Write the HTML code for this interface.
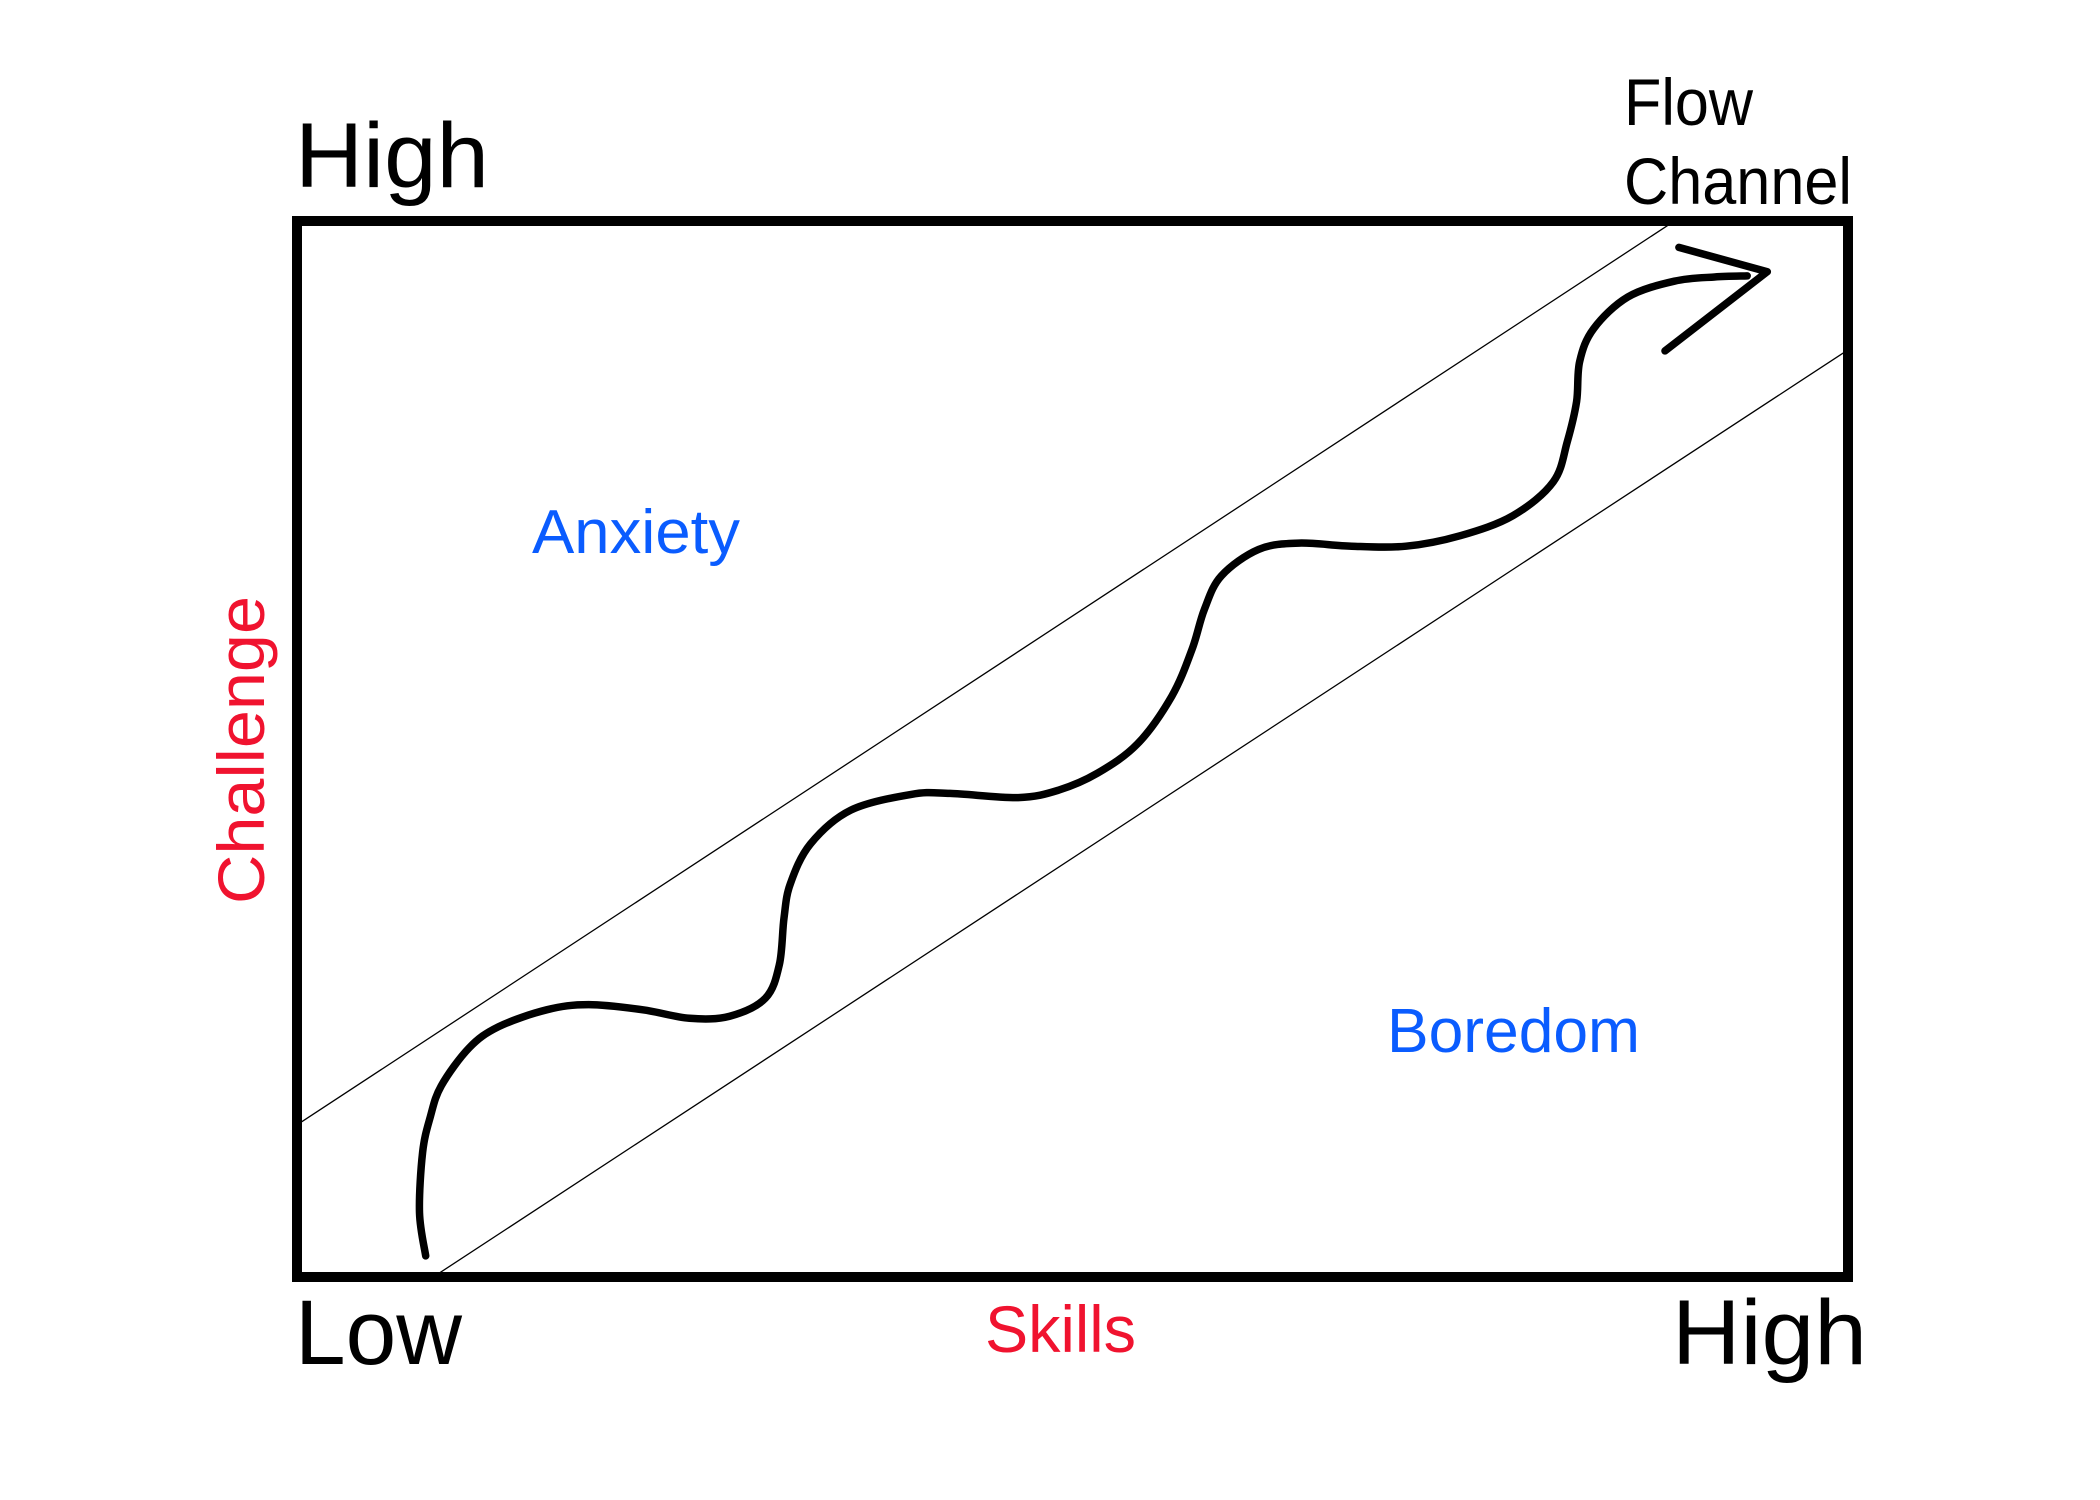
<!DOCTYPE html>
<html><head><meta charset="utf-8"><style>
html,body{margin:0;padding:0;background:#fff;}
svg{display:block;}
text{font-family:"Liberation Sans",sans-serif;}
</style></head><body>
<svg id="chart" width="2100" height="1500" viewBox="0 0 2100 1500" xmlns="http://www.w3.org/2000/svg">
<rect x="0" y="0" width="2100" height="1500" fill="#fff"/>
<g id="marks"></g>
<rect x="297" y="221" width="1551" height="1056" fill="none" stroke="#000" stroke-width="10"/>
<text x="295" y="187" font-size="92" textLength="194" lengthAdjust="spacingAndGlyphs">High</text>
<text x="1624" y="125" font-size="66" textLength="129" lengthAdjust="spacingAndGlyphs">Flow</text>
<text x="1624" y="204" font-size="66" textLength="228" lengthAdjust="spacingAndGlyphs">Channel</text>
<text x="295" y="1364" font-size="92" textLength="167" lengthAdjust="spacingAndGlyphs">Low</text>
<text x="1672" y="1364" font-size="92" textLength="195" lengthAdjust="spacingAndGlyphs">High</text>
<text x="985" y="1352" font-size="66" fill="#f0132f" textLength="151" lengthAdjust="spacingAndGlyphs">Skills</text>
<text x="532" y="553" font-size="62" fill="#0a5cff" textLength="208" lengthAdjust="spacingAndGlyphs">Anxiety</text>
<text x="1387" y="1052" font-size="62" fill="#0a5cff" textLength="253" lengthAdjust="spacingAndGlyphs">Boredom</text>
<text transform="translate(264,904) rotate(-90)" font-size="66" fill="#f0132f" textLength="308" lengthAdjust="spacingAndGlyphs">Challenge</text>
</svg>
<script>
const pathSkill = [8.3,7.9,8.1,8.6,9.3,11.1,13.0,16.1,18.8,22.3,25.3,27.9,30.2,31.1,31.4,31.8,33.1,35.7,39.6,42.1,46.5,49.1,51.6,54.2,56.4,57.7,58.5,59.6,62.0,64.6,68.0,71.5,75.0,78.4,81.0,81.9,82.5,82.7,83.6,85.8,88.8,91.4,93.5];
const pathChallenge = [2.0,6.1,11.8,15.2,18.1,21.7,23.7,25.3,25.8,25.3,24.5,24.7,26.4,29.6,34.0,37.2,41.0,44.2,45.7,45.8,45.4,46.1,47.7,50.5,55.0,59.4,63.2,66.4,68.9,69.5,69.2,69.2,70.2,72.1,75.3,79.1,82.9,86.7,89.8,92.8,94.3,94.7,94.8];
const arrowSkill = [89.1,94.8,88.2];
const arrowChallenge = [97.5,95.2,87.7];
const channelUpperSkill = [0.2,88.4];
const channelUpperChallenge = [14.6,99.6];
const channelLowerSkill = [9.2,99.9];
const channelLowerChallenge = [0.4,87.7];

const X0=297, X1=1848, Y0=1277, Y1=221;
function xScale(v){return X0+(X1-X0)*v/100;}
function yScale(v){return Y0-(Y0-Y1)*v/100;}
const NS="http://www.w3.org/2000/svg";
const g=document.getElementById('marks');
function pts(xs,ys){return xs.map((x,i)=>xScale(x).toFixed(1)+','+yScale(ys[i]).toFixed(1)).join(' ');}
function smooth(xs,ys){
  const P=xs.map((x,i)=>[xScale(x),yScale(ys[i])]);
  let d='M'+P[0][0].toFixed(1)+','+P[0][1].toFixed(1);
  for(let i=0;i<P.length-1;i++){
    const p0=P[Math.max(0,i-1)],p1=P[i],p2=P[i+1],p3=P[Math.min(P.length-1,i+2)];
    const c1=[p1[0]+(p2[0]-p0[0])/6,p1[1]+(p2[1]-p0[1])/6];
    const c2=[p2[0]-(p3[0]-p1[0])/6,p2[1]-(p3[1]-p1[1])/6];
    d+=' C'+c1[0].toFixed(1)+','+c1[1].toFixed(1)+' '+c2[0].toFixed(1)+','+c2[1].toFixed(1)+' '+p2[0].toFixed(1)+','+p2[1].toFixed(1);
  }
  return d;
}

const up=document.createElementNS(NS,'polyline');
up.setAttribute('points',pts(channelUpperSkill,channelUpperChallenge));
up.setAttribute('fill','none');up.setAttribute('stroke','#000');up.setAttribute('stroke-width','1.3');


g.appendChild(up);

const lo=document.createElementNS(NS,'polyline');
lo.setAttribute('points',pts(channelLowerSkill,channelLowerChallenge));
lo.setAttribute('fill','none');lo.setAttribute('stroke','#000');lo.setAttribute('stroke-width','1.3');


g.appendChild(lo);

const p=document.createElementNS(NS,'path');
p.setAttribute('d',smooth(pathSkill,pathChallenge));
p.setAttribute('fill','none');p.setAttribute('stroke','#000');p.setAttribute('stroke-width','7.5');
p.setAttribute('stroke-linejoin','round');p.setAttribute('stroke-linecap','round');


g.appendChild(p);

const a=document.createElementNS(NS,'polyline');
a.setAttribute('points',pts(arrowSkill,arrowChallenge));
a.setAttribute('fill','none');a.setAttribute('stroke','#000');a.setAttribute('stroke-width','7.5');
a.setAttribute('stroke-linejoin','round');a.setAttribute('stroke-linecap','round');


g.appendChild(a);
</script>
</body></html>
